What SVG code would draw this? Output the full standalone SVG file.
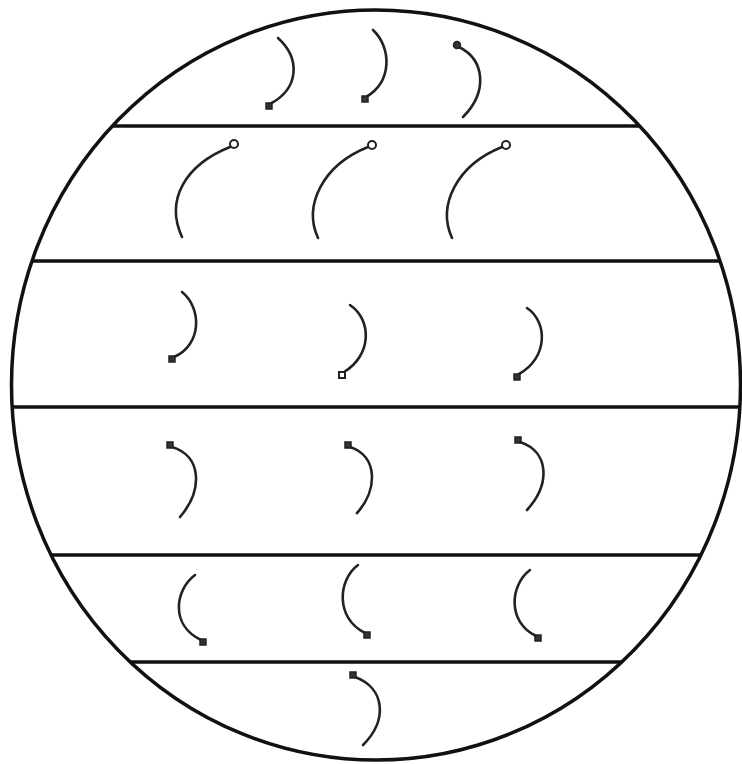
<svg xmlns="http://www.w3.org/2000/svg" width="742" height="764" viewBox="0 0 742 764">
<style>
.outline{fill:none;stroke:#111;stroke-width:3.5}
.band{stroke:#111;stroke-width:3.5}
.tail{fill:none;stroke:#222;stroke-width:2.6;stroke-linecap:round}
.head{fill:#333;stroke:#222;stroke-width:1.5}
.open{fill:#fff;stroke:#222;stroke-width:2}
</style>
<defs>
<clipPath id="c"><ellipse cx="376" cy="385" rx="364.5" ry="375"/></clipPath>
</defs>
<rect width="742" height="764" fill="#fff"/>
<g id="frame">
<ellipse class="outline" cx="376" cy="385" rx="364.5" ry="375"/>
</g>
<g id="bands" clip-path="url(#c)">
<line class="band" x1="0" y1="126" x2="742" y2="126"/>
<line class="band" x1="0" y1="261" x2="742" y2="261"/>
<line class="band" x1="0" y1="407" x2="742" y2="407"/>
<line class="band" x1="0" y1="555" x2="742" y2="555"/>
<line class="band" x1="0" y1="662" x2="742" y2="662"/>
</g>
<g id="s1"><path class="tail" d="M278,38 C300,58 300,88 270,104"/><rect class="head" x="266" y="103" width="6" height="6"/></g>
<g id="s2"><path class="tail" d="M373,30 C392,48 392,82 366,97"/><rect class="head" x="362" y="96" width="6" height="6"/></g>
<g id="s3"><path class="tail" d="M459,47 C485,60 488,92 463,117"/><circle class="head" cx="457" cy="45" r="3.5"/></g>
<g id="s4"><path class="tail" d="M230,147 C185,165 165,200 182,237"/><circle class="open" cx="234" cy="144" r="4"/></g>
<g id="s5"><path class="tail" d="M368,147 C323,165 303,205 318,238"/><circle class="open" cx="372" cy="145" r="4"/></g>
<g id="s6"><path class="tail" d="M502,147 C457,165 437,205 452,238"/><circle class="open" cx="506" cy="145" r="4"/></g>
<g id="s7"><path class="tail" d="M182,292 C202,308 202,345 174,357"/><rect class="head" x="169" y="356" width="6" height="6"/></g>
<g id="s8"><path class="tail" d="M350,305 C372,320 372,355 344,372"/><rect class="open" x="339" y="372" width="6" height="6"/></g>
<g id="s9"><path class="tail" d="M527,308 C548,322 548,358 519,374"/><rect class="head" x="514" y="374" width="6" height="6"/></g>
<g id="s10"><path class="tail" d="M172,447 C202,456 203,490 180,517"/><rect class="head" x="167" y="442" width="6" height="6"/></g>
<g id="s11"><path class="tail" d="M350,447 C378,456 378,490 357,513"/><rect class="head" x="345" y="442" width="6" height="6"/></g>
<g id="s12"><path class="tail" d="M520,442 C550,452 550,485 527,510"/><rect class="head" x="515" y="437" width="6" height="6"/></g>
<g id="s13"><path class="tail" d="M195,575 C175,590 170,625 201,640"/><rect class="head" x="200" y="639" width="6" height="6"/></g>
<g id="s14"><path class="tail" d="M358,565 C338,580 335,618 365,633"/><rect class="head" x="364" y="632" width="6" height="6"/></g>
<g id="s15"><path class="tail" d="M530,570 C510,585 507,622 536,636"/><rect class="head" x="535" y="635" width="6" height="6"/></g>
<g id="s16"><path class="tail" d="M355,677 C385,688 388,720 363,745"/><rect class="head" x="350" y="672" width="6" height="6"/></g>
</svg>
